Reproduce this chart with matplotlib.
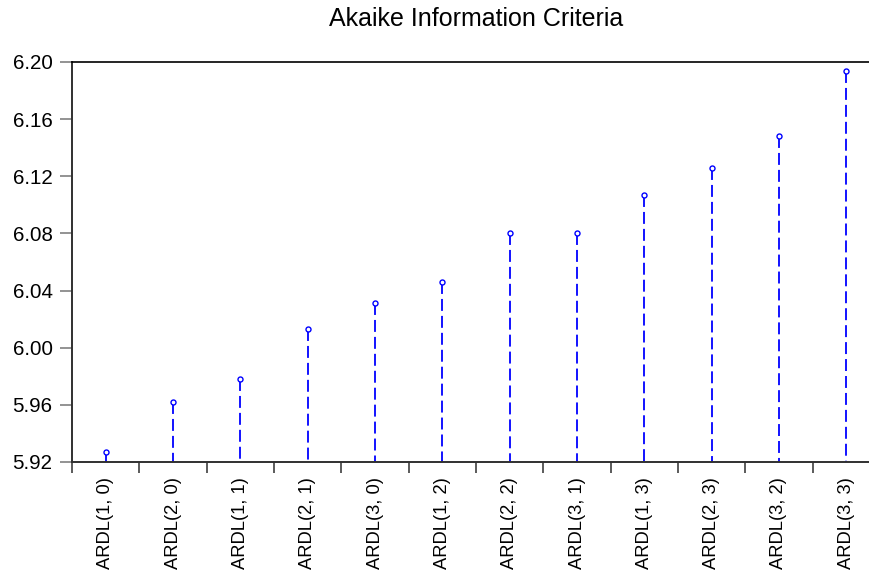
import matplotlib
matplotlib.use("Agg")
import matplotlib.pyplot as plt
from matplotlib.ticker import FixedLocator, FormatStrFormatter

# Model labels and their Akaike information criterion values
models = ["ARDL(1, 0)", "ARDL(2, 0)", "ARDL(1, 1)", "ARDL(2, 1)", "ARDL(3, 0)",
          "ARDL(1, 2)", "ARDL(2, 2)", "ARDL(3, 1)", "ARDL(1, 3)", "ARDL(2, 3)",
          "ARDL(3, 2)", "ARDL(3, 3)"]
aic = [5.927, 5.962, 5.978, 6.013, 6.031, 6.046, 6.080, 6.080, 6.107, 6.126,
       6.148, 6.194]
y_ticks = [5.92, 5.96, 6.00, 6.04, 6.08, 6.12, 6.16, 6.20]

plt.rcParams["font.family"] = ["Liberation Sans", "DejaVu Sans"]
plt.rcParams["lines.scale_dashes"] = False

W, H = 870, 572
fig = plt.figure(figsize=(W / 100, H / 100), dpi=100)
ax = fig.add_axes([72 / W, 1 - 462 / H, (880 - 72) / W, 400 / H])

base = y_ticks[0]
xs = list(range(len(models)))
for x, v in zip(xs, aic):
    # draw from the top down so each stem begins with a full dash
    ax.plot([x, x], [v, base], color="#0000FF", lw=1.3,
            linestyle=(0, (8.6, 3.6)), solid_capstyle="butt",
            dash_capstyle="butt", zorder=2, clip_on=False)
ax.plot(xs, aic, linestyle="none", marker="o", markersize=3.6,
        markerfacecolor="white", markeredgecolor="#0000FF",
        markeredgewidth=1.0, zorder=3, clip_on=False)

ax.set_xlim(-0.5, len(models) - 0.5)
ax.set_ylim(y_ticks[0], y_ticks[-1])

ax.yaxis.set_major_locator(FixedLocator(y_ticks))
ax.yaxis.set_major_formatter(FormatStrFormatter("%.2f"))
ax.tick_params(axis="y", direction="out", length=9, width=1.2,
               color="#808080", pad=5, labelsize=14.8, labelcolor="black")

ax.set_xticks(xs)
ax.set_xticklabels(models, rotation=90)
ax.set_xticks([x + 0.5 for x in xs[:-1]] + [-0.5], minor=True)
ax.tick_params(axis="x", which="major", length=0, pad=11, labelsize=13.2)
ax.tick_params(axis="x", which="minor", direction="out", length=8,
               width=1.2, color="#404040")

ax.spines["right"].set_visible(False)
ax.spines["top"].set_color("black")
ax.spines["top"].set_linewidth(1.2)
for side in ("left", "bottom"):
    ax.spines[side].set_color("#303030")
    ax.spines[side].set_linewidth(1.4)

ax.set_title("Akaike Information Criteria", fontsize=18, pad=26)

fig.savefig("out.png", dpi=100)
